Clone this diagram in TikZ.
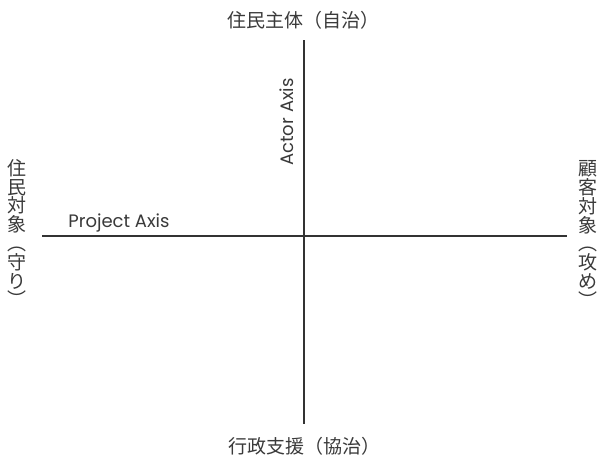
\documentclass[tikz,border=0pt]{standalone}
\usepackage{fontspec}
\newfontfamily\cjk{Noto Sans CJK JP}
\newfontfamily\lat{Poppins}
\definecolor{ink}{HTML}{333333}
\definecolor{txt}{HTML}{3A3A3A}
\begin{document}
\begin{tikzpicture}[x=1pt,y=-1pt,
  axis/.style={draw=ink,line width=2pt},
  jp/.style={font=\cjk\fontsize{19}{18.8}\selectfont,text=txt,inner sep=0pt},
  jpv/.style={jp,align=center},
  lab/.style={font=\lat\fontsize{18}{20}\selectfont,text=txt,inner sep=0pt}]
\useasboundingbox[fill=white] (0,0) rectangle (599,455);
\coordinate (L) at (42,236);
\coordinate (R) at (567,236);
\coordinate (T) at (304,40);
\coordinate (B) at (304,424);
\draw[axis] (L) -- (R);
\draw[axis] (T) -- (B);
\node[jp] (top) at (303,20) {住民主体（自治）};
\node[jp] (bottom) at (304,446) {行政支援（協治）};
\node[jpv] (left) at (17,233) {住\\民\\対\\象\\︵\\守\\り\\︶};
\node[jpv] (right) at (588,234) {顧\\客\\対\\象\\︵\\攻\\め\\︶};
\node[lab,rotate=90] (actor) at (287,122) {Actor Axis};
\node[lab,anchor=base] (proj) at (119,227) {Project Axis};
\end{tikzpicture}
\end{document}
